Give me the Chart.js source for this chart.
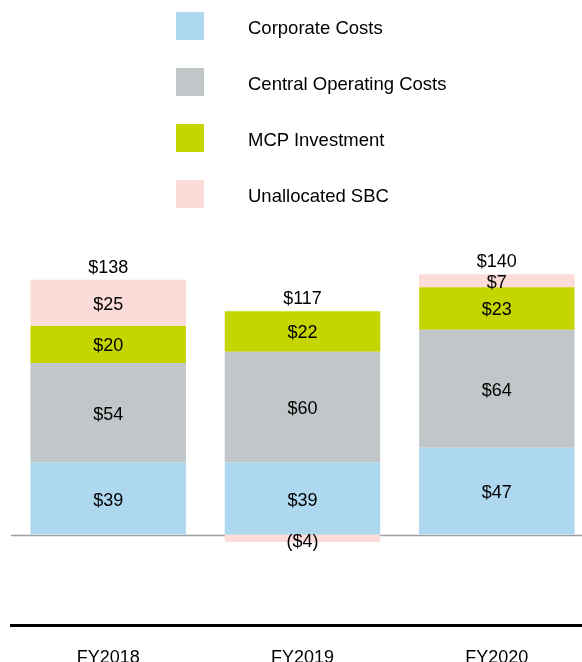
<!DOCTYPE html>
<html>
<head>
<meta charset="utf-8">
<script src="https://cdn.jsdelivr.net/npm/chart.js@4.4.0/dist/chart.umd.min.js"></script>
<style>
  html, body { margin: 0; padding: 0; background: #fff; overflow: hidden; }
  #wrap { position: relative; width: 600px; height: 700px; }
  #legend { position: absolute; left: 0; top: 0; }
  .swatch { position: absolute; width: 28px; height: 28px; }
  .lbl { position: absolute; font: 18.5px "Liberation Sans", Arial, sans-serif; line-height: 20px; color: #000; white-space: nowrap; }
</style>
</head>
<body>
<div id="wrap">
  <canvas id="costChart" width="600" height="700"></canvas>
  <div id="legend"></div>
</div>
<script>
const FONT = '"Liberation Sans", Arial, sans-serif';

const categories = ['FY2018', 'FY2019', 'FY2020'];
const corporateCosts = [39, 39, 47];
const centralOperatingCosts = [54, 60, 64];
const mcpInvestment = [20, 22, 23];
const unallocatedSbc = [25, -4, 7];
const totals = [138, 117, 140];

const datasets = [
  { label: 'Corporate Costs', data: corporateCosts, backgroundColor: '#aed8f0' },
  { label: 'Central Operating Costs', data: centralOperatingCosts, backgroundColor: '#c1c7c8' },
  { label: 'MCP Investment', data: mcpInvestment, backgroundColor: '#c5d500' },
  { label: 'Unallocated SBC', data: unallocatedSbc, backgroundColor: '#fcdcd8' }
];

// legend down the top, one row per series
const legend = document.getElementById('legend');
datasets.forEach((ds, i) => {
  const top = 12 + i * 56;
  legend.insertAdjacentHTML('beforeend',
    `<div class="swatch" style="left:176px;top:${top}px;background:${ds.backgroundColor}"></div>
     <div class="lbl" style="left:248px;top:${top + 6}px">${ds.label}</div>`);
});

// thin grey line at zero
const zeroLine = {
  id: 'zeroLine',
  beforeDatasetsDraw(chart) {
    const { ctx, chartArea, scales } = chart;
    const y = Math.round(scales.y.getPixelForValue(0)) + 0.5;
    ctx.save();
    ctx.strokeStyle = '#a0a0a0';
    ctx.lineWidth = 1.5;
    ctx.beginPath();
    ctx.moveTo(chartArea.left, y);
    ctx.lineTo(chartArea.right, y);
    ctx.stroke();
    ctx.restore();
  }
};

// segment values inside the bars, totals above
const valueLabels = {
  id: 'valueLabels',
  afterDatasetsDraw(chart) {
    const ctx = chart.ctx;
    ctx.save();
    ctx.font = '18px ' + FONT;
    ctx.fillStyle = '#000';
    ctx.textAlign = 'center';
    ctx.textBaseline = 'middle';
    const tops = [];
    chart.data.datasets.forEach((ds, di) => {
      chart.getDatasetMeta(di).data.forEach((bar, i) => {
        const v = ds.data[i];
        const mid = (bar.y + bar.base) / 2;
        if (v < 0) {
          ctx.fillText('($' + (-v) + ')', bar.x, mid + 4);
        } else {
          ctx.fillText('$' + v, bar.x, mid + 2);
          tops[i] = tops[i] === undefined ? bar.y : Math.min(tops[i], bar.y);
        }
      });
    });
    const meta = chart.getDatasetMeta(0);
    totals.forEach((t, i) => {
      ctx.fillText('$' + t, meta.data[i].x, tops[i] - 12);
    });
    ctx.restore();
  }
};

new Chart(document.getElementById('costChart'), {
  type: 'bar',
  data: {
    labels: categories,
    datasets: datasets.map(ds => Object.assign({}, ds, {
      borderWidth: 0,
      barPercentage: 0.8,
      categoryPercentage: 1
    }))
  },
  options: {
    responsive: false,
    animation: false,
    layout: { padding: { top: 230, left: 11, right: 6, bottom: 0 } },
    plugins: {
      legend: { display: false },
      tooltip: { enabled: false }
    },
    scales: {
      x: {
        stacked: true,
        grid: { display: false, drawTicks: false },
        border: { display: true, color: '#000', width: 3 },
        ticks: { color: '#000', font: { size: 18, family: FONT }, padding: 22 },
        afterFit(scale) { scale.height = 75; }
      },
      y: {
        stacked: true,
        display: false,
        min: -49,
        max: 165
      }
    }
  },
  plugins: [zeroLine, valueLabels]
});
</script>
</body>
</html>
